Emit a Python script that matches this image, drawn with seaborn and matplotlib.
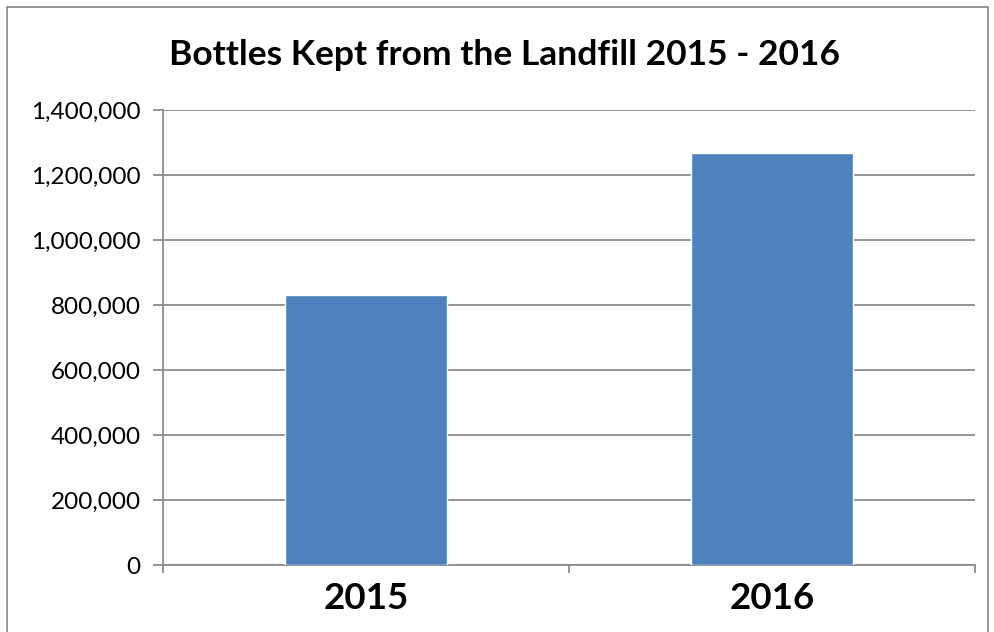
import matplotlib
matplotlib.use("Agg")
import matplotlib.pyplot as plt
import matplotlib.ticker as mticker
import seaborn as sns
import pandas as pd

years = ['2015', '2016']
bottles = [831000, 1268000]

df = pd.DataFrame({'Year': years, 'Bottles': bottles})

sns.set_style('white')
plt.rcParams['font.family'] = ['Lato', 'DejaVu Sans']

fig = plt.figure(figsize=(9.95, 6.32), dpi=100)
ax = fig.add_axes([163 / 995, (632 - 565) / 632, (975 - 163) / 995, (565 - 110) / 632])

sns.barplot(data=df, x='Year', y='Bottles', color='#4F81BD', saturation=1,
            width=0.4, ax=ax, zorder=3)

ax.set_ylim(0, 1400000)
ax.set_xlim(-0.5, 1.5)
ax.yaxis.set_major_locator(mticker.MultipleLocator(200000))
ax.yaxis.set_major_formatter(mticker.FuncFormatter(lambda v, p: f'{int(v):,}'))
ax.grid(axis='y', color='#8c8c8c', linewidth=1.3, zorder=0)
ax.set_axisbelow(True)

for s in ['top', 'right']:
    ax.spines[s].set_visible(False)
for s in ['left', 'bottom']:
    ax.spines[s].set_color('#8c8c8c')
    ax.spines[s].set_linewidth(1.3)

ax.tick_params(axis='y', which='major', left=True, length=7, width=1.3,
               color='#8c8c8c', labelsize=17.5, labelcolor='black', pad=9)
ax.tick_params(axis='x', which='major', bottom=False, labelsize=26.5,
               labelcolor='black', pad=9)
ax.xaxis.set_minor_locator(mticker.FixedLocator([-0.5, 0.5, 1.5]))
ax.tick_params(axis='x', which='minor', bottom=True, length=6, width=1.3,
               color='#8c8c8c')
for lbl in ax.get_xticklabels():
    lbl.set_fontweight('bold')

ax.set_xlabel('')
ax.set_ylabel('')
fig.text(0.507, (632 - 55) / 632, 'Bottles Kept from the Landfill 2015 - 2016',
         ha='center', va='center', fontsize=25.5, fontweight='bold', color='black')

fig.patches.append(plt.Rectangle((7 / 995, -0.01), (988 - 7) / 995, (632 - 7) / 632 + 0.01,
                                 transform=fig.transFigure, fill=False,
                                 edgecolor='#8c8c8c', linewidth=1.3))

fig.savefig('out.png', dpi=100)
